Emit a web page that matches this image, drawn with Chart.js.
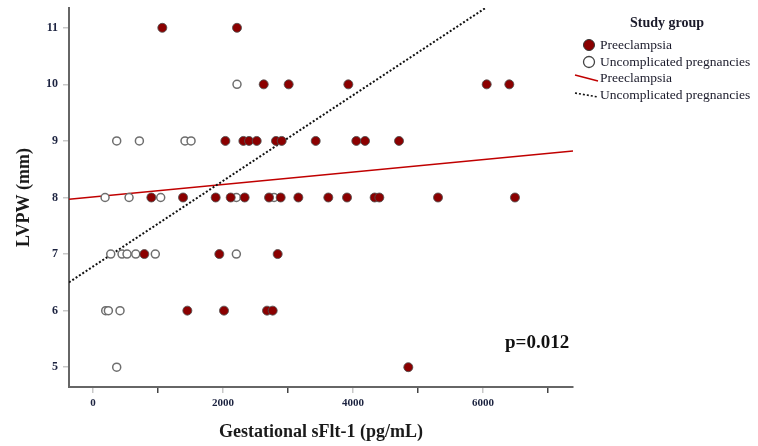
<!DOCTYPE html>
<html>
<head>
<meta charset="utf-8">
<script src="https://cdn.jsdelivr.net/npm/chart.js@4/dist/chart.umd.min.js"></script>
<style>
  html, body { margin: 0; padding: 0; background: #fff; }
  #wrap { width: 758px; height: 446px; position: relative; }
</style>
</head>
<body>
<div id="wrap"><canvas id="c" width="758" height="446"></canvas></div>
<script>
// ---- data ----
const preX = [1066, 2215,
  2626, 3010, 3928, 6057, 6405,
  2036, 2313, 2400, 2518, 2815, 2903, 3426, 4051, 4185, 4708,
  897, 1385, 1887, 2118, 2333, 2708, 2887, 3159, 3620, 3908, 4333, 4405, 5308, 6492,
  789, 1943, 2841,
  1451, 2015, 2677, 2764,
  4851];
const preY = [11, 11,
  10, 10, 10, 10, 10,
  9, 9, 9, 9, 9, 9, 9, 9, 9, 9,
  8, 8, 8, 8, 8, 8, 8, 8, 8, 8, 8, 8, 8, 8,
  7, 7, 7,
  6, 6, 6, 6,
  5];
const uncX = [2215,
  364, 713, 1415, 1508,
  185, 554, 1041, 2205, 2785,
  272, 446, 523, 657, 958, 2205,
  195, 236, 415,
  364];
const uncY = [10,
  9, 9, 9, 9,
  8, 8, 8, 8, 8,
  7, 7, 7, 7, 7, 7,
  6, 6, 6,
  5];
// fit line end points
const fitX = [-370, 7385];
const preFitY = [7.97, 8.82];
const uncFitY = [6.50, 12.37];
// axes
const xTicks = [0, 1000, 2000, 3000, 4000, 5000, 6000, 7000];
const xTickLabels = ['0', '', '2000', '', '4000', '', '6000', ''];
const yTicks = [5, 6, 7, 8, 9, 10, 11];
const xRange = [-370, 7385];
const yRange = [4.65, 11.35];
const legendTitle = 'Study group';
const legendLabels = ['Preeclampsia', 'Uncomplicated pregnancies', 'Preeclampsia', 'Uncomplicated pregnancies'];
const pText = 'p=0.012';

const toPts = (xs, ys) => xs.map((x, i) => ({x: x, y: ys[i]}));

const SERIF = '"Liberation Serif", "DejaVu Serif", serif';
const DARK_RED = '#8b0000';

const overlay = {
  id: 'overlay',
  afterDraw(chart) {
    const ctx = chart.ctx;
    ctx.save();
    // p value
    ctx.fillStyle = '#111';
    ctx.font = 'bold 19px ' + SERIF;
    ctx.textAlign = 'left';
    ctx.textBaseline = 'alphabetic';
    ctx.fillText(pText, 505, 348);
    // legend title
    ctx.font = 'bold 14px ' + SERIF;
    ctx.textAlign = 'center';
    ctx.textBaseline = 'middle';
    ctx.fillStyle = '#1a1a2a';
    ctx.fillText(legendTitle, 667, 23);
    // legend entries
    ctx.font = '13.5px ' + SERIF;
    ctx.textAlign = 'left';
    const rows = [45, 62, 78, 95];
    ctx.fillStyle = '#1a1a2a';
    legendLabels.forEach((t, i) => ctx.fillText(t, 600, rows[i]));
    // markers
    ctx.beginPath();
    ctx.arc(589, rows[0], 5.5, 0, Math.PI * 2);
    ctx.fillStyle = DARK_RED; ctx.fill();
    ctx.lineWidth = 1; ctx.strokeStyle = '#333'; ctx.stroke();
    ctx.beginPath();
    ctx.arc(589, rows[1], 5.5, 0, Math.PI * 2);
    ctx.fillStyle = '#fff'; ctx.fill();
    ctx.lineWidth = 1.3; ctx.strokeStyle = '#444'; ctx.stroke();
    ctx.beginPath();
    ctx.moveTo(575, rows[2] - 3); ctx.lineTo(598, rows[2] + 3);
    ctx.strokeStyle = '#c00000'; ctx.lineWidth = 1.5; ctx.stroke();
    ctx.beginPath();
    ctx.setLineDash([2, 2]);
    ctx.moveTo(575, rows[3] - 2); ctx.lineTo(598, rows[3] + 2);
    ctx.strokeStyle = '#111'; ctx.lineWidth = 1.6; ctx.stroke();
    ctx.restore();
  }
};

new Chart(document.getElementById('c'), {
  type: 'scatter',
  data: {
    datasets: [
      {
        label: 'Preeclampsia fit',
        data: toPts(fitX, preFitY),
        showLine: true,
        pointRadius: 0,
        borderColor: '#c00000',
        borderWidth: 1.5,
        order: 3
      },
      {
        label: 'Uncomplicated fit',
        data: toPts(fitX, uncFitY),
        showLine: true,
        pointRadius: 0,
        borderColor: '#111',
        borderWidth: 2,
        borderDash: [2, 2],
        order: 2
      },
      {
        label: 'Uncomplicated pregnancies',
        data: toPts(uncX, uncY),
        pointRadius: 4,
        pointBackgroundColor: '#fff',
        pointBorderColor: '#6e6e6e',
        pointBorderWidth: 1.5,
        order: 1
      },
      {
        label: 'Preeclampsia',
        data: toPts(preX, preY),
        pointRadius: 4.5,
        pointBackgroundColor: DARK_RED,
        pointBorderColor: 'rgba(80,80,80,0.85)',
        pointBorderWidth: 1,
        order: 0
      }
    ]
  },
  options: {
    responsive: false,
    animation: false,
    devicePixelRatio: 1,
    layout: { padding: { left: 0, right: 185, top: 8, bottom: 0 } },
    plugins: {
      legend: { display: false },
      tooltip: { enabled: false }
    },
    scales: {
      x: {
        type: 'linear',
        min: xRange[0],
        max: xRange[1],
        afterBuildTicks: (s) => { s.ticks = xTicks.map(v => ({value: v})); },
        afterFit: (s) => { s.height = 59; s.paddingLeft = 0; s.paddingRight = 0; },
        ticks: {
          autoSkip: false,
          maxRotation: 0,
          padding: 4,
          color: '#1c2340',
          font: { family: SERIF, size: 11, weight: 'bold' },
          callback: (v, i) => xTickLabels[i]
        },
        grid: {
          drawOnChartArea: false,
          drawTicks: true,
          tickLength: 6,
          lineWidth: 1.5,
          color: (c) => (c.index % 2 === 0 ? '#c8c8c8' : '#444')
        },
        border: { display: true, color: '#666', width: 2 },
        title: {
          display: true,
          text: 'Gestational sFlt-1 (pg/mL)',
          color: '#1a1a1a',
          font: { family: SERIF, size: 18, weight: 'bold' },
          padding: { top: 0, bottom: 3 }
        }
      },
      y: {
        type: 'linear',
        min: yRange[0],
        max: yRange[1],
        afterBuildTicks: (s) => { s.ticks = yTicks.map(v => ({value: v})); },
        afterFit: (s) => { s.width = 69; s.paddingTop = 0; s.paddingBottom = 0; },
        ticks: {
          padding: 5,
          color: '#1c2340',
          font: { family: SERIF, size: 12, weight: 'bold' }
        },
        grid: {
          drawOnChartArea: false,
          drawTicks: true,
          tickLength: 6,
          lineWidth: 1.5,
          color: '#c8c8c8'
        },
        border: { display: true, color: '#666', width: 2 },
        title: {
          display: true,
          text: 'LVPW (mm)',
          color: '#1a1a1a',
          font: { family: SERIF, size: 18, weight: 'bold' },
          padding: { top: 14, bottom: 0 }
        }
      }
    }
  },
  plugins: [overlay]
});
</script>
</body>
</html>
